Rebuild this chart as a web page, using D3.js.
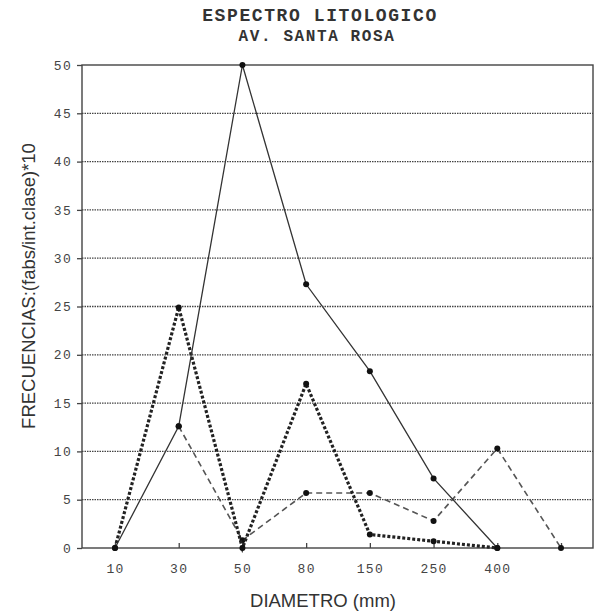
<!DOCTYPE html>
<html>
<head>
<meta charset="utf-8">
<script src="https://cdn.jsdelivr.net/npm/d3@7"></script>
<style>
  html, body { margin: 0; padding: 0; background: #fff; }
  svg { display: block; }
</style>
</head>
<body>
<svg id="chart" width="600" height="614"></svg>
<script>
// Diameter classes (the last class has no printed label)
const categories = ["10", "30", "50", "80", "150", "250", "400", ">400"];
const tickLabels = ["10", "30", "50", "80", "150", "250", "400", ""];
const yTicks = [0, 5, 10, 15, 20, 25, 30, 35, 40, 45, 50];

// Frequency series, (fabs / class interval) * 10
const solidSeries  = [0, 12.6, 50, 27.3, 18.3, 7.2, 0, null];
const dottedSeries = [0, 24.9, 0, 17.0, 1.4, 0.7, 0, null];
const dashedSeries = [null, 12.6, 0.8, 5.7, 5.7, 2.8, 10.3, 0];

const svg = d3.select("#chart");
const plotLeft = 82, plotRight = 593, plotTop = 65, plotBottom = 548;

const x = d3.scalePoint().domain(categories).range([115, 561]);
const y = d3.scaleLinear().domain([0, 50]).range([plotBottom, plotTop]);

const mono = "'Liberation Mono', 'DejaVu Sans Mono', monospace";
const sans = "'Liberation Sans', Arial, sans-serif";

// Title
svg.append("text").attr("x", 320).attr("y", 21).attr("text-anchor", "middle")
  .attr("font-family", mono).attr("font-weight", "bold").attr("font-size", 18)
  .attr("letter-spacing", 1.6).attr("fill", "#333").text("ESPECTRO LITOLOGICO");
svg.append("text").attr("x", 317).attr("y", 41).attr("text-anchor", "middle")
  .attr("font-family", mono).attr("font-weight", "bold").attr("font-size", 16)
  .attr("letter-spacing", 1.6).attr("fill", "#333").text("AV. SANTA ROSA");

// Horizontal dotted grid
svg.append("g").selectAll("line").data(yTicks.filter(d => d > 0 && d < 50)).join("line")
  .attr("x1", plotLeft).attr("x2", plotRight)
  .attr("y1", d => y(d)).attr("y2", d => y(d))
  .attr("stroke", "#444").attr("stroke-width", 1.3).attr("stroke-dasharray", "1.5,1");

// Plot frame
svg.append("rect").attr("x", plotLeft).attr("y", plotTop)
  .attr("width", plotRight - plotLeft).attr("height", plotBottom - plotTop)
  .attr("fill", "none").attr("stroke", "#444").attr("stroke-width", 1.4);

// Y axis
const yAxis = d3.axisLeft(y).tickValues(yTicks).tickSize(5).tickPadding(5);
const gy = svg.append("g").attr("transform", `translate(${plotLeft},0)`).call(yAxis);
gy.select(".domain").remove();
gy.selectAll(".tick line").attr("stroke", "#444").attr("stroke-width", 1.3);
gy.selectAll(".tick text").attr("font-family", mono).attr("font-size", 13)
  .attr("letter-spacing", 1.3).attr("fill", "#444");

// X axis: short ticks pointing into the plot
const xAxis = d3.axisBottom(x).tickSize(-5).tickPadding(16)
  .tickFormat((d, i) => tickLabels[i]);
const gx = svg.append("g").attr("transform", `translate(0,${plotBottom})`).call(xAxis);
gx.select(".domain").remove();
gx.selectAll(".tick line").attr("stroke", "#444").attr("stroke-width", 1.3);
gx.selectAll(".tick text").attr("font-family", mono).attr("font-size", 13)
  .attr("letter-spacing", 1.3).attr("fill", "#444");

// Axis titles
svg.append("text").attr("x", 323).attr("y", 607).attr("text-anchor", "middle")
  .attr("font-family", sans).attr("font-size", 18.5).attr("fill", "#333")
  .text("DIAMETRO (mm)");
svg.append("text").attr("transform", "translate(35,286) rotate(-90)")
  .attr("text-anchor", "middle").attr("font-family", sans).attr("font-size", 18.5)
  .attr("fill", "#333").text("FRECUENCIAS:(fabs/int.clase)*10");

// Series
const series = [
  { values: dashedSeries, width: 1.6, dash: "6,4", color: "#555" },
  { values: dottedSeries, width: 3.2, dash: "3,2", color: "#222" },
  { values: solidSeries,  width: 1.3, dash: null,  color: "#333" }
];

const line = d3.line()
  .defined(d => d.v != null)
  .x(d => x(d.c)).y(d => y(d.v));

series.forEach(s => {
  const pts = categories.map((c, i) => ({ c, v: s.values[i] }));
  svg.append("path").datum(pts)
    .attr("d", line).attr("fill", "none")
    .attr("stroke", s.color).attr("stroke-width", s.width)
    .attr("stroke-dasharray", s.dash);
  svg.append("g").selectAll("circle").data(pts.filter(d => d.v != null)).join("circle")
    .attr("cx", d => x(d.c)).attr("cy", d => y(d.v))
    .attr("r", 3).attr("fill", "#111");
});
</script>
</body>
</html>
